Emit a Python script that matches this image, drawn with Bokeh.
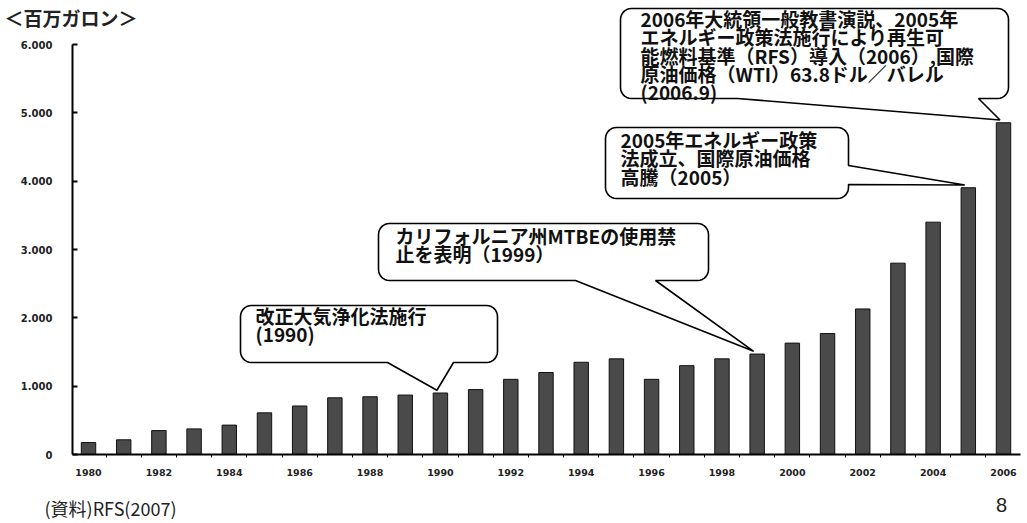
import numpy as np
from bokeh.plotting import figure
from bokeh.models import FixedTicker, Range1d
from bokeh.embed import file_html
from bokeh.resources import INLINE
from bokeh.core.properties import value

# ---------------- data ----------------
years = list(range(1980, 2007))
production = [175, 215, 350, 375, 430, 610, 710, 830, 845, 870, 900, 950, 1100,
              1200, 1350, 1400, 1100, 1300, 1400, 1470, 1630, 1770, 2130, 2800,
              3400, 3904, 4855]
y_ticks = [0, 1000, 2000, 3000, 4000, 5000, 6000]
y_tick_labels = ["0", "1.000", "2.000", "3.000", "4.000", "5.000", "6.000"]
x_ticks = list(range(1980, 2007, 2))
unit_label = "＜百万ガロン＞"
source_note = "(資料)RFS(2007)"
page_number = "8"
callout_years = [1990, 1999, 2005, 2006]
callout_texts = [
    ["改正大気浄化法施行", "(1990)"],
    ["カリフォルニア州MTBEの使用禁", "止を表明（1999）"],
    ["2005年エネルギー政策", "法成立、国際原油価格", "高騰（2005）"],
    ["2006年大統領一般教書演説、2005年", "エネルギー政策法施行により再生可",
     "能燃料基準（RFS）導入（2006）,国際", "原油価格（WTI）63.8ドル／バレル",
     "(2006.9)"],
]

# ---------------- layout (pixel geometry of the page) ----------------
W, H = 1027, 523
AX_L, AX_R, AX_B = 72, 1020, 454          # axis lines in page pixels
YEAR_L, YEAR_R = 1979.545, 2006.483        # data x at AX_L / AX_R
Y_PER_PX = 6000 / 410.0


def dx(px):
    return YEAR_L + (px - AX_L) * (YEAR_R - YEAR_L) / (AX_R - AX_L)


def dy(py):
    return (AX_B - py) * Y_PER_PX


def pxx(x):
    return AX_L + (x - YEAR_L) * (AX_R - AX_L) / (YEAR_R - YEAR_L)


def pyy(y):
    return AX_B - y / Y_PER_PX


JP = value("Noto Sans CJK JP")

p = figure(width=W, height=H, x_range=Range1d(dx(0), dx(W)),
           y_range=Range1d(dy(H), dy(0)),
           output_backend="svg", toolbar_location=None,
           min_border_left=0, min_border_right=0, min_border_top=0,
           min_border_bottom=0)
p.xgrid.grid_line_color = None
p.ygrid.grid_line_color = None
p.outline_line_color = None
p.background_fill_color = "white"
p.border_fill_color = "white"

p.vbar(x=years, top=production, width=0.41, fill_color="#4a4a4a",
       line_color="#111111", line_width=1)

# axes (drawn at fixed locations inside the full-page frame)
xa = p.xaxis[0]
xa.fixed_location = 0
xa.bounds = (dx(AX_L), dx(AX_R))
xa.ticker = FixedTicker(ticks=x_ticks, minor_ticks=[y + 0.5 for y in years[:-1]])
xa.major_tick_in = 0
xa.major_tick_out = 0
xa.minor_tick_in = 0
xa.minor_tick_out = 3
xa.axis_line_width = 2
xa.major_label_standoff = 11
xa.major_label_text_font = "DejaVu Sans"
xa.major_label_text_font_style = "bold"
xa.major_label_text_font_size = "9.5px"
xa.major_label_text_color = "#222222"

ya = p.yaxis[0]
ya.fixed_location = dx(AX_L)
ya.bounds = (0, 6000)
ya.ticker = FixedTicker(ticks=y_ticks)
ya.major_label_overrides = {t: l for t, l in zip(y_ticks, y_tick_labels)}
ya.major_tick_in = 5
ya.major_tick_out = 0
ya.minor_tick_line_color = None
ya.axis_line_width = 2
ya.major_tick_line_width = 2
ya.major_label_standoff = 20
ya.major_label_text_font = "DejaVu Sans"
ya.major_label_text_font_style = "bold"
ya.major_label_text_font_size = "10px"
ya.major_label_text_color = "#222222"

# ---------------- callouts ----------------
boxes = [
    dict(l=240, t=305, r=497, b=362, side="bottom", base=(453, 387), tx=255, ty=315),
    dict(l=378, t=223, r=708, b=280, side="bottom", base=(655, 575), tx=395, ty=235),
    dict(l=605, t=127, r=848, b=198, side="right", base=(165, 184), tx=620, ty=139),
    dict(l=620, t=8, r=1008, b=98, side="bottom", base=(978, 737), tx=640, ty=18),
]
R = 11


def arc(cx, cy, a0, a1, n=8):
    a = np.radians(np.linspace(a0, a1, n))
    return list(zip(cx + R * np.cos(a), cy + R * np.sin(a)))


prod = dict(zip(years, production))
for yr, bx, lines in zip(callout_years, boxes, callout_texts):
    l, t, r, b = bx["l"], bx["t"], bx["r"], bx["b"]
    tip = (pxx(yr - 0.1), pyy(prod[yr] + 40))
    pts = []
    pts += arc(r - R, t + R, -90, 0)
    if bx["side"] == "right":
        pts += [(r, bx["base"][0]), tip, (r, bx["base"][1])]
    pts += arc(r - R, b - R, 0, 90)
    if bx["side"] == "bottom":
        pts += [(bx["base"][0], b), tip, (bx["base"][1], b)]
    pts += arc(l + R, b - R, 90, 180)
    pts += arc(l + R, t + R, 180, 270)
    xs = [dx(q[0]) for q in pts]
    ys = [dy(q[1]) for q in pts]
    p.patch(xs, ys, fill_color="white", line_color="black", line_width=1.6)
    for i, line in enumerate(lines):
        p.text(x=[dx(bx["tx"])], y=[dy(bx["ty"] + i * 18.3)], text=[line],
               text_font=JP, text_font_size="19px", text_font_style="bold",
               text_baseline="middle", text_align="left", text_color="#111111")

# ---------------- texts around the chart ----------------
p.text(x=[dx(4)], y=[dy(17)], text=[unit_label], text_font=JP,
       text_font_size="19px", text_font_style="bold", text_baseline="middle",
       text_color="#222222")
p.text(x=[dx(44)], y=[dy(507)], text=[source_note], text_font=JP,
       text_font_size="18px", text_baseline="middle", text_color="#222222")
p.text(x=[dx(1001)], y=[dy(504)], text=[page_number], text_font=value("Liberation Sans"),
       text_font_size="20px", text_baseline="middle", text_align="center",
       text_color="#222222")

open("out.html", "w").write(file_html(p, INLINE))
